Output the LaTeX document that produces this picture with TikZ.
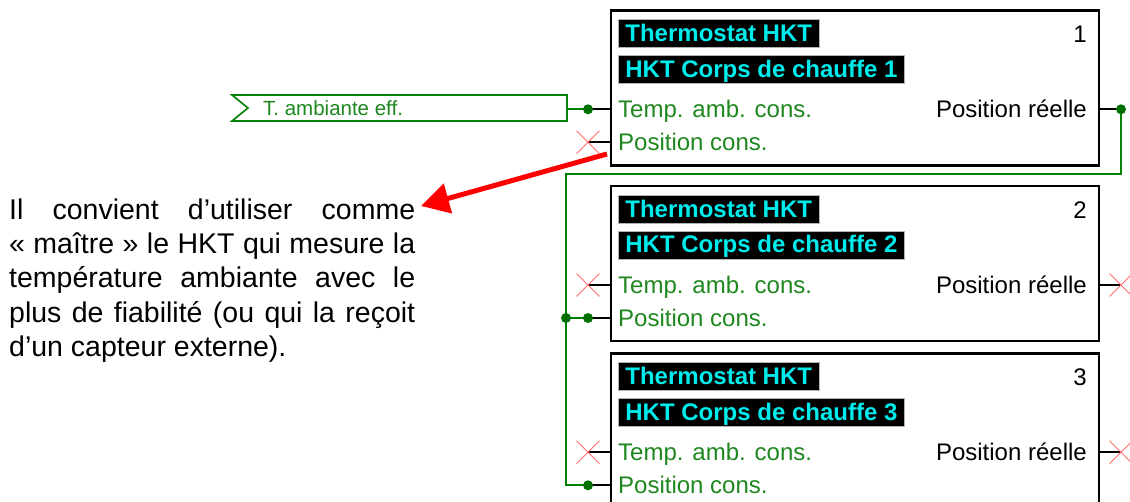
\documentclass[tikz,border=0pt]{standalone}
\usepackage{fontspec}
\setmainfont{Liberation Sans}
\usetikzlibrary{arrows.meta,shapes.misc,calc}
\definecolor{wgreen}{RGB}{0,128,0}
\definecolor{dgreen}{RGB}{0,112,0}
\definecolor{tgreen}{RGB}{30,135,30}
\definecolor{xred}{RGB}{255,110,110}
\definecolor{acyan}{RGB}{0,235,235}
\begin{document}
\begin{tikzpicture}[x=1pt,y=-1pt,
  fb/.style={draw=black,line width=2.4pt,minimum width=488pt,minimum height=155pt,inner sep=0pt,anchor=north west},
  ttl/.style={fill=black,draw=gray!60,line width=0.8pt,text=acyan,font=\fontsize{24}{28}\selectfont\bfseries,
    inner xsep=7pt,inner ysep=0pt,minimum height=28pt,text height=17pt,text depth=2pt,anchor=west},
  lbl/.style={font=\fontsize{24}{28}\selectfont,inner sep=0pt,anchor=base west,text=tgreen},
  rlbl/.style={font=\fontsize{24}{28}\selectfont,inner sep=0pt,anchor=base east,text=black},
  pinl/.style={draw=black,line width=2.2pt},
  wire/.style={draw=wgreen,line width=2.2pt},
  dot/.style={circle,fill=dgreen,minimum size=10pt,inner sep=0pt},
  xm/.style={draw=xred,line width=0.9pt,cross out,minimum size=22pt,inner sep=0pt},
  para/.style={font=\fontsize{28.5}{34}\selectfont,inner sep=0pt,anchor=base west,text=black}
]
\useasboundingbox (0,0) rectangle (1130,502);

% ---- boxes
\foreach \n/\T in {1/9.3,2/185,3/352.3}{
  \node[fb] (b\n) at (610,\T) {};
  \node[ttl] (t\n) at (618,\T+24.6) {Thermostat HKT};
  \node[ttl] (s\n) at (618,\T+60.5) {HKT Corps de chauffe \n};
  \node[rlbl] (n\n) at (1087,\T+33.2) {\n};
  \node[lbl] (ta\n) at (618,\T+108.6) {Temp. amb. cons.};
  \node[lbl] (pc\n) at (618,\T+141.6) {Position cons.};
  \node[rlbl] (pr\n) at (1087,\T+108.6) {Position réelle};
  \coordinate (L\n a) at (588,\T+100);
  \coordinate (L\n b) at (588,\T+133);
  \coordinate (R\n) at (1121,\T+100);
  \draw[pinl] (L\n a) -- (L\n a -| b\n.west);
  \draw[pinl] (L\n b) -- (L\n b -| b\n.west);
  \draw[pinl] (b\n.east |- R\n) -- (R\n);
}

% ---- unconnected pins
\node[xm] (x1b) at (L1b) {};
\node[xm] (x2a) at (L2a) {};
\node[xm] (x3a) at (L3a) {};
\node[xm] (x2r) at (R2) {};
\node[xm] (x3r) at (R3) {};

% ---- ambient input
\draw[wgreen,line width=1.6pt] (232,95) -- (567,95) -- (567,121) -- (232,121) -- (248,108) -- cycle;
\node[lbl,font=\fontsize{20.5}{24}\selectfont] (amb) at (263,116) {T. ambiante eff.};
\coordinate (ambR) at (567,108);
\draw[wire] (ambR) -- (L1a -| ambR) -- (L1a);
\node[dot] (d1a) at (L1a) {};

% ---- feedback wire
\coordinate (k1) at (1121,174.3);
\coordinate (k2) at (566,174.3);
\coordinate (k3) at (566,485.3);
\coordinate (j2) at (566,318);
\draw[wire] (R1) -- (k1) -- (k2) -- (k3) -- (L3b);
\draw[wire] (j2) -- (L2b);
\node[dot] (dr1) at (R1) {};
\node[dot] (dj2) at (j2) {};
\node[dot] (d2b) at (L2b) {};
\node[dot] (d3b) at (L3b) {};

% ---- red arrow
\coordinate (as) at (607,154);
\coordinate (at) at (421,206);
\draw[red,line width=5pt,-{Triangle[length=28pt,width=30pt]}] (as) -- (at);

% ---- paragraph
\node[para] (p1) at (9,219.3) {\makebox[406pt][s]{Il convient d’utiliser comme}};
\node[para] (p2) at (9,253.6) {\makebox[406pt][s]{«~maître~» le HKT qui mesure la}};
\node[para] (p3) at (9,288) {\makebox[406pt][s]{température ambiante avec le}};
\node[para] (p4) at (9,322.3) {\makebox[406pt][s]{plus de fiabilité (ou qui la reçoit}};
\node[para] (p5) at (9,356.7) {d’un capteur externe).};
\end{tikzpicture}
\end{document}
